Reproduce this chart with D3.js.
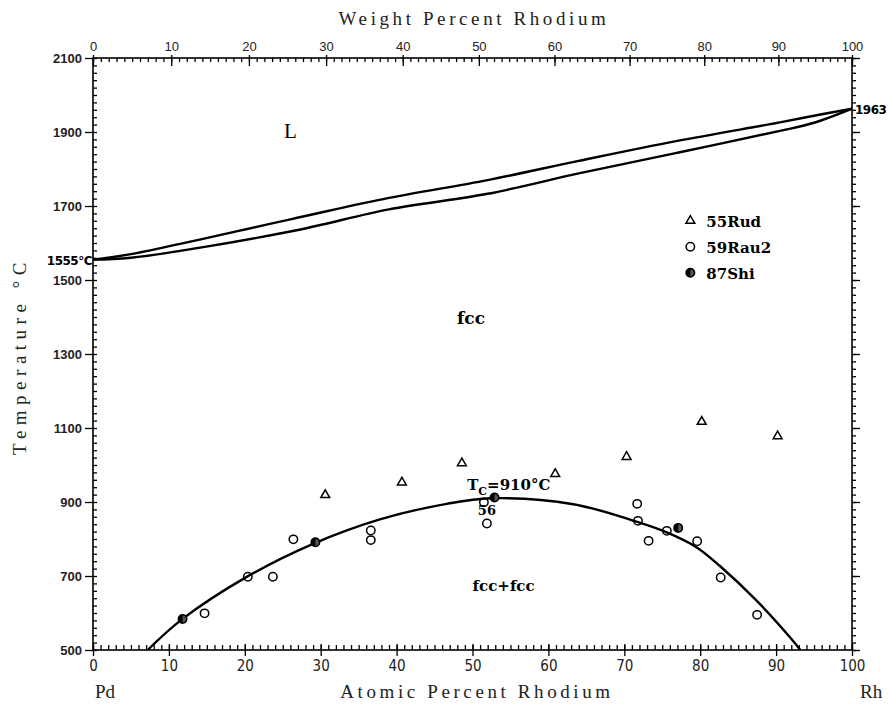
<!DOCTYPE html>
<html>
<head>
<meta charset="utf-8">
<script src="https://cdn.jsdelivr.net/npm/d3@7"></script>
<style>
  body { margin: 0; background: #fff; }
</style>
</head>
<body>
<div id="chart"></div>
<script>
// phase boundaries, [atomic % Rh, temperature °C]
const liquidus = [[0,1555],[5,1570],[26,1664],[39,1722],[52,1770],[64,1822],[77,1876],[90.5,1926],[95,1944],[100,1963]]
const solidus = [[0,1555],[5,1560],[26,1631],[39,1691],[52,1733],[64,1788],[77,1844],[90.5,1903],[95,1925],[100,1963]]
const gap = [[7.2,500],[11.8,584],[20.2,697],[29,787],[37.8,853],[46.6,895],[52.5,910],[63.3,894],[71.6,847],
             [75.6,818],[79.5,778],[82.6,727],[87.4,634],[91.8,535],[93.2,500]]

// experimental points
const rud55 = [[30.6,919],[40.7,953],[48.6,1005],[60.9,976],[70.3,1022],[80.2,1117],[90.2,1078]]
const rau59 = [[14.7,599],[20.4,698],[23.7,698],[26.4,799],[36.6,823],[36.6,797],[51.5,899],[51.9,842],
               [71.7,895],[71.8,849],[73.2,795],[75.6,822],[79.6,794],[82.7,696],[87.5,595]]
const shi87 = [[11.8,584],[29.3,791],[52.9,912],[77.1,830]]

const tempTicks = [500,700,900,1100,1300,1500,1700,1900,2100]
const atTicks = [0,10,20,30,40,50,60,70,80,90,100]
const wtTicks = [0,10,20,30,40,50,60,70,80,90,100]
const legendNames = ["55Rud","59Rau2","87Shi"]

const W = 888, H = 708
const margin = { top: 58, right: 36, bottom: 58, left: 93 }
const width = W - margin.left - margin.right
const height = H - margin.top - margin.bottom

const svg = d3.select("#chart").append("svg")
    .attr("width", W)
    .attr("height", H)
    .style("font-family", "'DejaVu Sans', sans-serif")

const g = svg.append("g")
    .attr("transform", "translate(" + margin.left + "," + margin.top + ")")

const x = d3.scaleLinear().domain([0, 100]).range([0, width])
const y = d3.scaleLinear().domain([500, 2100]).range([height, 0])

// weight % -> atomic % (Pd 106.42, Rh 102.906)
const wtToAt = w => {
    const r = w / 102.906, p = (100 - w) / 106.42
    return 100 * r / (r + p)
}
const wtAll = d3.range(0, 101, 1)
const xw = d3.scaleLinear().domain(wtAll).range(wtAll.map(w => x(wtToAt(w))))

const axisStyle = sel => {
    sel.select(".domain").remove()
    sel.selectAll("line").attr("stroke", "#000").attr("stroke-width", 1.3)
}

// frame
g.append("rect")
    .attr("width", width).attr("height", height)
    .attr("fill", "none").attr("stroke", "#000").attr("stroke-width", 1.6)

// left axis
g.append("g")
    .call(d3.axisLeft(y).tickValues(d3.range(500, 2101, 20)).tickSize(-4).tickFormat(""))
    .call(axisStyle)
g.append("g")
    .call(d3.axisLeft(y).tickValues(tempTicks).tickSize(8).tickPadding(3).tickFormat(d3.format("d")))
    .call(axisStyle)
    .call(a => a.selectAll("text").style("font-size", "13px").style("font-weight", "bold").attr("fill", "#222"))

// right axis
g.append("g").attr("transform", "translate(" + width + ",0)")
    .call(d3.axisRight(y).tickValues(d3.range(500, 2101, 20)).tickSize(4).tickFormat(""))
    .call(axisStyle)
g.append("g").attr("transform", "translate(" + width + ",0)")
    .call(d3.axisRight(y).tickValues(tempTicks).tickSize(8).tickFormat(""))
    .call(axisStyle)

// bottom axis (atomic %)
g.append("g").attr("transform", "translate(0," + height + ")")
    .call(d3.axisBottom(x).tickValues(d3.range(0, 101, 1)).tickSize(-5).tickFormat(""))
    .call(axisStyle)
g.append("g").attr("transform", "translate(0," + height + ")")
    .call(d3.axisBottom(x).tickValues(atTicks).tickSize(6).tickPadding(4).tickFormat(d3.format("d")))
    .call(axisStyle)
    .call(a => a.selectAll("text")
        .style("font-family", "'Liberation Sans Narrow','DejaVu Sans Condensed',sans-serif")
        .style("font-size", "15px").attr("fill", "#222"))
g.append("g").attr("transform", "translate(0," + height + ")")
    .call(d3.axisTop(x).tickValues(atTicks).tickSize(6).tickFormat(""))
    .call(axisStyle)

// top axis (weight %)
g.append("g")
    .call(d3.axisTop(xw).tickValues(wtAll).tickSize(-4).tickFormat(""))
    .call(axisStyle)
g.append("g")
    .call(d3.axisBottom(xw).tickValues(wtTicks).tickSize(8).tickFormat(""))
    .call(axisStyle)
g.append("g")
    .call(d3.axisTop(xw).tickValues(wtTicks).tickSize(3).tickPadding(4).tickFormat(d3.format("d")))
    .call(axisStyle)
    .call(a => a.selectAll("text").style("font-family", "'Liberation Sans',sans-serif").style("font-size", "13px").attr("fill", "#222"))

// curves
const line = d3.line().x(d => x(d[0])).y(d => y(d[1])).curve(d3.curveCatmullRom)
g.append("clipPath").attr("id", "clip").append("rect").attr("width", width).attr("height", height)

g.selectAll(".boundary")
    .data([liquidus, solidus, gap])
    .enter()
    .append("path")
    .attr("class", "boundary")
    .attr("d", line)
    .attr("clip-path", "url(#clip)")
    .attr("fill", "none")
    .attr("stroke", "#000")
    .attr("stroke-width", 2.4)

// symbols
const tri = d3.symbol().type(d3.symbolTriangle).size(34)
const drawTri = (sel, cx, cy) => sel.append("path")
    .attr("d", tri).attr("transform", "translate(" + cx + "," + cy + ")")
    .attr("fill", "none").attr("stroke", "#000").attr("stroke-width", 1.5)
const drawOpen = (sel, cx, cy) => sel.append("circle")
    .attr("cx", cx).attr("cy", cy).attr("r", 4.2)
    .attr("fill", "none").attr("stroke", "#000").attr("stroke-width", 1.5)
const drawHalf = (sel, cx, cy) => {
    sel.append("circle").attr("cx", cx).attr("cy", cy).attr("r", 4.2)
        .attr("fill", "#555").attr("stroke", "#000").attr("stroke-width", 1.6)
    sel.append("path")
        .attr("d", d3.arc()({ innerRadius: 0, outerRadius: 4.2, startAngle: Math.PI, endAngle: 2 * Math.PI }))
        .attr("transform", "translate(" + cx + "," + cy + ")").attr("fill", "#000")
}

rud55.forEach(d => drawTri(g, x(d[0]), y(d[1])))
rau59.forEach(d => drawOpen(g, x(d[0]), y(d[1])))
shi87.forEach(d => drawHalf(g, x(d[0]), y(d[1])))

// legend
const leg = g.append("g").attr("transform", "translate(" + (x(78.7)) + "," + y(1660) + ")")
const drawers = [drawTri, drawOpen, drawHalf]
legendNames.forEach((name, i) => {
    drawers[i](leg, 0, i * 26)
    leg.append("text").text(name)
        .attr("x", 16).attr("y", i * 26 + 6)
        .style("font-family", "'DejaVu Serif',serif").style("font-size", "15px").style("font-weight", "bold")
})

// region labels
const serifLbl = (txt, xv, yv, size, weight) => g.append("text")
    .text(txt).attr("x", x(xv)).attr("y", y(yv))
    .style("font-family", "'DejaVu Serif',serif").style("font-size", size + "px")
    .style("font-weight", weight || "normal").attr("text-anchor", "middle")

g.append("text").text("L")
    .attr("x", x(26)).attr("y", y(1883))
    .attr("text-anchor", "middle")
    .style("font-family", "'Liberation Serif',serif").style("font-size", "21px")
serifLbl("fcc", 49.8, 1382, 17, "bold")
serifLbl("fcc+fcc", 54.1, 659, 15, "bold")
serifLbl("56", 51.9, 866, 13, "bold")

const tc = g.append("text").attr("x", x(49.3)).attr("y", y(932))
    .style("font-family", "'DejaVu Serif',serif").style("font-size", "15px").style("font-weight", "bold")
tc.append("tspan").text("T")
tc.append("tspan").text("C").attr("dy", 5).style("font-size", "11px")
tc.append("tspan").text("=910°C").attr("dy", -5)

// endpoint labels
svg.append("text").text("1555°C")
    .attr("x", margin.left - 1).attr("y", margin.top + y(1555) + 5)
    .attr("text-anchor", "end")
    .style("font-size", "12px").style("font-weight", "bold").style("letter-spacing", "-0.5px")
svg.append("text").text("1963")
    .attr("x", margin.left + width + 3).attr("y", margin.top + y(1963) + 5)
    .style("font-size", "12px").style("font-weight", "bold").style("letter-spacing", "-0.5px")

// axis titles
const title = (txt, tx, ty, rot, ls) => svg.append("text")
    .text(txt)
    .attr("transform", "translate(" + tx + "," + ty + ")" + (rot ? " rotate(-90)" : ""))
    .attr("text-anchor", "middle")
    .style("font-family", "'Liberation Serif',serif")
    .style("font-size", "19px")
    .style("letter-spacing", ls + "px")
    .attr("fill", "#222")

title("Weight Percent Rhodium", 474, 25, false, 3.6)
title("Atomic Percent Rhodium", 477, 698, false, 3.6)
title("Temperature °C", 26, 356, true, 5.5)

svg.append("text").text("Pd").attr("x", 95).attr("y", 698)
    .style("font-family", "'Liberation Serif',serif").style("font-size", "19px").attr("fill", "#222")
svg.append("text").text("Rh").attr("x", 860).attr("y", 698)
    .style("font-family", "'Liberation Serif',serif").style("font-size", "19px").attr("fill", "#222")
</script>
</body>
</html>
